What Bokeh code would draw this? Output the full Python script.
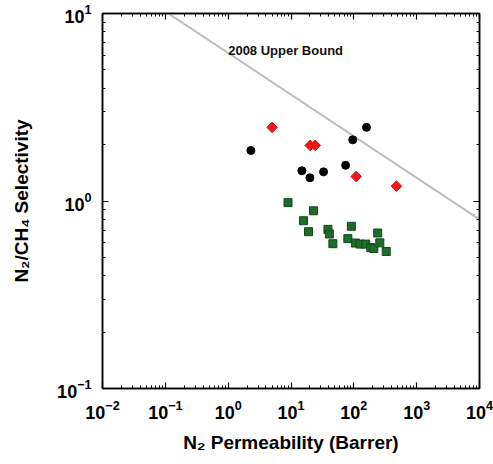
import math

from bokeh.plotting import figure
from bokeh.models import LogAxis, FixedTicker, Label, CustomJSTickFormatter, LogTickFormatter
from bokeh.embed import file_html
from bokeh.resources import INLINE

# N2 permeability (Barrer) and N2/CH4 selectivity, one pair of lists per material group
black_perm = [2.3, 14.9, 20.0, 33.0, 74.0, 96.0, 159.0]
black_sel = [1.86, 1.45, 1.33, 1.43, 1.55, 2.12, 2.47]

red_perm = [5.0, 20.2, 24.3, 109.0, 476.0]
red_sel = [2.47, 1.98, 1.98, 1.35, 1.20]

green_perm = [8.96, 22.8, 15.8, 19.0, 38.7, 40.8, 46.4, 91.3, 80.3, 106.0,
              126.0, 155.0, 186.0, 208.0, 240.0, 259.0, 328.0]
green_sel = [0.98, 0.887, 0.785, 0.686, 0.706, 0.667, 0.592, 0.733, 0.630, 0.597,
             0.589, 0.589, 0.564, 0.558, 0.675, 0.598, 0.538]

# 2008 upper bound, drawn as a straight line on the log-log axes
bound_perm = [0.112, 10400.0]
bound_sel = [10.0, 0.79]
bound_label = "2008 Upper Bound"

# decade ticks (labelled as 10^n)
x_exponents = [-2, -1, 0, 1, 2, 3, 4]
y_exponents = [-1, 0, 1]

x_title = "N\u2082 Permeability (Barrer)"
y_title = "N\u2082/CH\u2084 Selectivity"

FONT = "Liberation Sans"

x_start, x_end = 10.0 ** x_exponents[0], 10.0 ** x_exponents[-1]
y_start, y_end = 10.0 ** y_exponents[0], 10.0 ** y_exponents[-1]

p = figure(
    width=493, height=464,
    x_axis_type="log", y_axis_type="log",
    x_range=(x_start, x_end), y_range=(y_start, y_end),
    output_backend="svg", toolbar_location=None,
    min_border_left=102, min_border_right=14,
    min_border_top=13, min_border_bottom=76,
    background_fill_color="white", border_fill_color="white",
)
p.grid.visible = False
p.outline_line_color = "black"
p.outline_line_width = 1.5

minor_x = [m * 10.0 ** e for e in x_exponents[:-1] for m in range(2, 10)]
minor_y = [m * 10.0 ** e for e in y_exponents[:-1] for m in range(2, 10)]
xticker = FixedTicker(ticks=[10.0 ** e for e in x_exponents], minor_ticks=minor_x)
yticker = FixedTicker(ticks=[10.0 ** e for e in y_exponents], minor_ticks=minor_y)


def style_axis(ax, ticker, labelled):
    ax.ticker = ticker
    ax.axis_line_color = "black"
    ax.axis_line_width = 1.5
    ax.major_tick_line_color = "black"
    ax.major_tick_line_width = 1.2
    ax.minor_tick_line_color = "black"
    ax.minor_tick_line_width = 1.0
    ax.major_tick_in = 6
    ax.major_tick_out = 0
    ax.minor_tick_in = 3
    ax.minor_tick_out = 0
    if labelled:
        ax.formatter = LogTickFormatter()
        ax.major_label_text_font = FONT
        ax.major_label_text_font_style = "bold"
        ax.major_label_text_font_size = "18px"
        ax.major_label_text_color = "black"
        ax.axis_label_text_font = FONT
        ax.axis_label_text_font_style = "bold"
        ax.axis_label_text_font_size = "19px"
        ax.axis_label_text_color = "black"
    else:
        ax.formatter = CustomJSTickFormatter(code="return ''")
        ax.major_label_text_font_size = "8px"
        ax.major_label_text_color = None
        ax.major_label_standoff = 0


style_axis(p.xaxis[0], xticker, True)
style_axis(p.yaxis[0], yticker, True)
p.xaxis[0].major_label_standoff = 11
p.xaxis[0].axis_label = x_title
p.xaxis[0].axis_label_standoff = 10
p.yaxis[0].major_label_standoff = 11
p.yaxis[0].axis_label = y_title
p.yaxis[0].axis_label_standoff = 22

top_axis = LogAxis()
style_axis(top_axis, xticker, False)
p.add_layout(top_axis, "above")
right_axis = LogAxis()
style_axis(right_axis, yticker, False)
p.add_layout(right_axis, "right")

# upper bound line and its caption
p.line(bound_perm, bound_sel, line_color="#bdbdbd", line_width=2)
p.add_layout(Label(x=1.0, y=6.35, text=bound_label, text_font=FONT,
                   text_font_style="bold", text_font_size="13px",
                   text_align="left", text_baseline="middle", text_color="#111111"))

# data points
p.scatter(green_perm, green_sel, marker="square", size=8,
          fill_color="#1f6b2a", line_color="#124a1b", line_width=1)
p.scatter(black_perm, black_sel, marker="circle", size=8,
          fill_color="black", line_color="black")
p.scatter(red_perm, red_sel, marker="square", angle=math.pi / 4, size=7.5,
          fill_color="#f01818", line_color="#e01010", line_width=1)

open("out.html", "w").write(file_html(p, INLINE))
